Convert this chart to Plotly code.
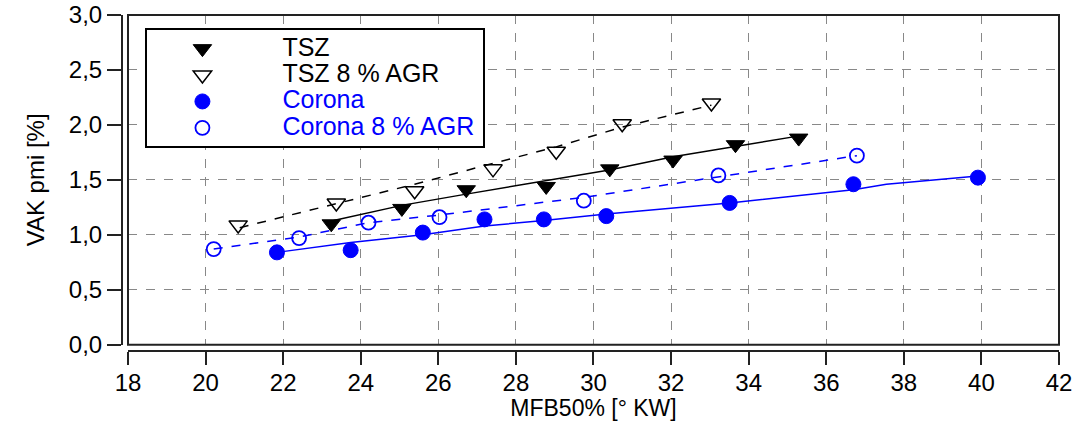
import plotly.graph_objects as go

# Measured points (MFB50 in deg crank angle, VAK pmi in %)
tsz_x = [23.24, 25.06, 26.72, 28.78, 30.42, 32.05, 33.66, 35.29]
tsz_y = [1.10, 1.24, 1.41, 1.44, 1.60, 1.68, 1.82, 1.88]

tsz_agr_x = [20.84, 23.37, 25.39, 27.41, 29.04, 30.74, 33.04]
tsz_agr_y = [1.09, 1.29, 1.40, 1.60, 1.76, 2.01, 2.20]

corona_x = [21.84, 23.74, 25.60, 27.19, 28.72, 30.33, 33.51, 36.70, 39.91]
corona_y = [0.84, 0.86, 1.02, 1.14, 1.14, 1.17, 1.29, 1.46, 1.52]

corona_agr_x = [20.21, 22.41, 24.20, 26.03, 29.75, 33.22, 36.79]
corona_agr_y = [0.87, 0.97, 1.11, 1.16, 1.31, 1.54, 1.72]

# Trend lines through each series
tsz_fit_x = [23.30, 25.09, 26.72, 28.78, 30.41, 32.05, 33.65, 35.31]
tsz_fit_y = [1.13, 1.27, 1.37, 1.49, 1.59, 1.71, 1.80, 1.90]

tsz_agr_fit_x = [20.88, 23.37, 25.39, 27.41, 29.04, 30.74, 33.04]
tsz_agr_fit_y = [1.065, 1.28, 1.46, 1.65, 1.80, 1.98, 2.18]

corona_fit_x = [21.84, 23.74, 25.60, 27.19, 28.72, 30.33, 33.51, 36.70, 37.55, 39.91]
corona_fit_y = [0.84, 0.93, 1.00, 1.08, 1.13, 1.19, 1.29, 1.41, 1.46, 1.535]

corona_agr_fit_x = [20.21, 22.41, 24.20, 26.03, 29.75, 33.22, 36.79]
corona_agr_fit_y = [0.87, 0.98, 1.11, 1.18, 1.34, 1.53, 1.72]

x_ticks = list(range(18, 43, 2))
y_ticks = [0.0, 0.5, 1.0, 1.5, 2.0, 2.5, 3.0]

BLUE = "#0000ff"
FONT = "Liberation Sans, Arial, sans-serif"
EM = "\u2003"
PAD = "\u2006"


def label(text, color):
    return f"<span style='font-size:25px;color:{color}'>{EM}{text}{PAD}</span>"


fig = go.Figure()

# trend lines
fig.add_trace(go.Scatter(x=tsz_agr_fit_x, y=tsz_agr_fit_y, mode="lines",
                         line=dict(color="black", width=1.5, dash="dash"),
                         showlegend=False, hoverinfo="skip"))
fig.add_trace(go.Scatter(x=tsz_fit_x, y=tsz_fit_y, mode="lines",
                         line=dict(color="black", width=1.5),
                         showlegend=False, hoverinfo="skip"))
fig.add_trace(go.Scatter(x=corona_agr_fit_x, y=corona_agr_fit_y, mode="lines",
                         line=dict(color=BLUE, width=1.5, dash="dash"),
                         showlegend=False, hoverinfo="skip"))
fig.add_trace(go.Scatter(x=corona_fit_x, y=corona_fit_y, mode="lines",
                         line=dict(color=BLUE, width=1.5),
                         showlegend=False, hoverinfo="skip"))

# markers
fig.add_trace(go.Scatter(x=tsz_x, y=tsz_y, mode="markers", name=label("TSZ", "black"),
                         marker=dict(symbol="triangle-down", size=16, color="black",
                                     line=dict(color="black", width=1))))
fig.add_trace(go.Scatter(x=tsz_agr_x, y=tsz_agr_y, mode="markers",
                         name=label("TSZ 8 % AGR", "black"),
                         marker=dict(symbol="triangle-down-open", size=16, color="black",
                                     line=dict(color="black", width=1.5))))
fig.add_trace(go.Scatter(x=corona_x, y=corona_y, mode="markers",
                         name=label("Corona", BLUE),
                         marker=dict(symbol="circle", size=15, color=BLUE,
                                     line=dict(color=BLUE, width=1))))
fig.add_trace(go.Scatter(x=corona_agr_x, y=corona_agr_y, mode="markers",
                         name=label("Corona 8 % AGR", BLUE),
                         marker=dict(symbol="circle-open", size=14, color=BLUE,
                                     line=dict(color=BLUE, width=1.8))))

# frame around the plotting area
fig.add_shape(type="rect", xref="x domain", yref="y domain", x0=0, x1=1, y0=0, y1=1,
              line=dict(color="#222", width=2), layer="above")

fig.update_layout(
    width=1080, height=421,
    margin=dict(l=122, r=21, t=15, b=70, autoexpand=False),
    paper_bgcolor="white", plot_bgcolor="white",
    separators=", ",
    font=dict(family=FONT, size=24, color="black"),
    showlegend=True,
    legend=dict(x=0.025, y=0.96, xanchor="left", yanchor="top",
                bgcolor="white", bordercolor="black", borderwidth=2,
                font=dict(size=18, family=FONT), itemwidth=100, indentation=0,
                itemsizing="trace", traceorder="normal"),
    xaxis=dict(range=[18, 42], domain=[0.0064, 1], anchor="free", position=0,
               automargin=False, ticklabelstandoff=-3,
               tickvals=x_ticks, ticks="outside", ticklen=13, tickwidth=2,
               tickcolor="#222", showline=True, linecolor="#222", linewidth=2,
               showgrid=True, gridcolor="#888", gridwidth=1.3, griddash="dash",
               zeroline=False, tickfont=dict(size=24, family=FONT),
               title=dict(text="MFB50% [° KW]", font=dict(size=23, family=FONT),
                          standoff=8)),
    yaxis=dict(range=[0, 3], domain=[0.0188, 1], anchor="free", position=0,
               automargin=False,
               tickvals=y_ticks, tickformat=".1f", ticks="outside", ticklen=14,
               tickwidth=2, tickcolor="#222", showline=True, linecolor="#222",
               linewidth=2, showgrid=True, gridcolor="#888", gridwidth=1.3,
               griddash="dash", zeroline=False, tickfont=dict(size=24, family=FONT),
               title=dict(text="VAK pmi [%]", font=dict(size=24, family=FONT),
                          standoff=16)),
)

fig.write_html("out.html")
